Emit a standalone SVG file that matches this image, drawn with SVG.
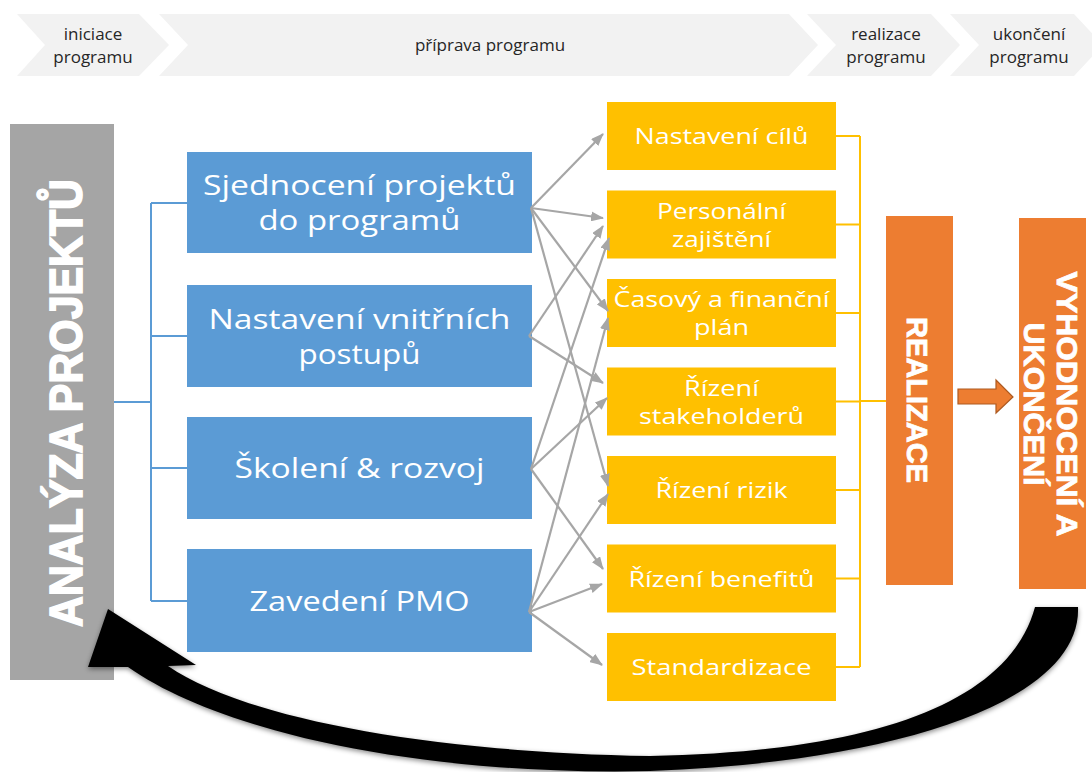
<svg xmlns="http://www.w3.org/2000/svg" width="1092" height="772" viewBox="0 0 1092 772">
  <defs>
    <style>
      .phase { fill: #f2f2f2; }
      .phase-t { font-family: "Open Sans", "Noto Sans", sans-serif; font-size: 17px; fill: #262626; text-anchor: middle; }
      .blue { fill: #5b9bd5; }
      .blue-t { font-family: "Open Sans", "Noto Sans", sans-serif; font-size: 27.5px; fill: #ffffff; text-anchor: middle; }
      .yel { fill: #ffc000; }
      .yel-t { font-family: "Open Sans", "Noto Sans", sans-serif; font-size: 22px; fill: #ffffff; text-anchor: middle; }
      .org { fill: #ed7d31; }
      .big-t { font-family: "Liberation Sans", Arial, sans-serif; font-weight: bold; fill: #ffffff; text-anchor: middle; stroke: #ffffff; stroke-width: 0.8; }
      .tree-b { fill: none; stroke: #5b9bd5; stroke-width: 2; }
      .tree-y { fill: none; stroke: #ffc000; stroke-width: 2; }
      .link { fill: none; stroke: #a6a6a6; stroke-width: 2.2; marker-end: url(#ah); }
    </style>
    <marker id="ah" viewBox="0 0 13 10" refX="12" refY="5" markerWidth="13" markerHeight="10" markerUnits="userSpaceOnUse" orient="auto">
      <path d="M0,0 L13,5 L0,10 Z" fill="#a6a6a6"/>
    </marker>
    <filter id="soft" x="-5%" y="-10%" width="110%" height="130%">
      <feGaussianBlur in="SourceAlpha" stdDeviation="2.5"/>
      <feOffset dx="0" dy="2" result="b"/>
      <feFlood flood-color="#000" flood-opacity="0.45"/>
      <feComposite in2="b" operator="in"/>
      <feMerge><feMergeNode/><feMergeNode in="SourceGraphic"/></feMerge>
    </filter>
  </defs>

  <rect width="1092" height="772" fill="#ffffff"/>

  <!-- phase chevrons -->
  <g id="phase-1">
    <polygon class="phase" points="17,14 139,14 169,45 139,76 17,76 45,45"/>
    <text class="phase-t" x="93" y="40">iniciace</text>
    <text class="phase-t" x="93" y="63">programu</text>
  </g>
  <g id="phase-2">
    <polygon class="phase" points="159,14 789,14 818,45 789,76 159,76 188,45"/>
    <text class="phase-t" x="490" y="51">příprava programu</text>
  </g>
  <g id="phase-3">
    <polygon class="phase" points="807,14 931,14 960,45 931,76 807,76 836,45"/>
    <text class="phase-t" x="886" y="40">realizace</text>
    <text class="phase-t" x="886" y="63">programu</text>
  </g>
  <g id="phase-4">
    <polygon class="phase" points="950,14 1074,14 1103,45 1074,76 950,76 979,45"/>
    <text class="phase-t" x="1029" y="40">ukončení</text>
    <text class="phase-t" x="1029" y="63">programu</text>
  </g>

  <!-- analysis column -->
  <g id="analyza">
    <rect x="10" y="124" width="104" height="556" fill="#a5a5a5"/>
    <text class="big-t" font-size="46" style="stroke-width:1.6" transform="translate(82,403) rotate(-90)" textLength="448" lengthAdjust="spacingAndGlyphs">ANALÝZA PROJEKTŮ</text>
  </g>

  <!-- feedback loop arrow, drawn over the analysis column -->
  <g id="loop-arrow">
    <path filter="url(#soft)" fill="#000000" d="M1078,607 C1082,700 900,762 650,771 C420,776 220,732 128,667 L88,667 L108,609 L196,665 L168,666 C240,716 420,752 650,756 C880,752 1010,700 1035,607 Z"/>
  </g>

  <!-- preparation blocks -->
  <g id="sjednoceni">
    <rect class="blue" x="187" y="152" width="345" height="101"/>
    <text class="blue-t" x="359.5" y="195" textLength="313" lengthAdjust="spacingAndGlyphs">Sjednocení projektů</text>
    <text class="blue-t" x="359.5" y="230" textLength="202" lengthAdjust="spacingAndGlyphs">do programů</text>
  </g>
  <g id="postupy">
    <rect class="blue" x="187" y="285" width="345" height="102"/>
    <text class="blue-t" x="359.5" y="328.5" textLength="302" lengthAdjust="spacingAndGlyphs">Nastavení vnitřních</text>
    <text class="blue-t" x="359.5" y="363.5" textLength="122" lengthAdjust="spacingAndGlyphs">postupů</text>
  </g>
  <g id="skoleni">
    <rect class="blue" x="187" y="417" width="345" height="102"/>
    <text class="blue-t" x="359.5" y="478" textLength="250" lengthAdjust="spacingAndGlyphs">Školení &amp; rozvoj</text>
  </g>
  <g id="pmo">
    <rect class="blue" x="187" y="549" width="345" height="103"/>
    <text class="blue-t" x="359.5" y="610.5" textLength="220" lengthAdjust="spacingAndGlyphs">Zavedení PMO</text>
  </g>

  <!-- program areas -->
  <g id="cile">
    <rect class="yel" x="607" y="102" width="229" height="68"/>
    <text class="yel-t" x="721.5" y="144" textLength="174" lengthAdjust="spacingAndGlyphs">Nastavení cílů</text>
  </g>
  <g id="personalni">
    <rect class="yel" x="607" y="190.5" width="229" height="68"/>
    <text class="yel-t" x="721.5" y="218.5" textLength="129" lengthAdjust="spacingAndGlyphs">Personální</text>
    <text class="yel-t" x="721.5" y="246.5" textLength="99" lengthAdjust="spacingAndGlyphs">zajištění</text>
  </g>
  <g id="plan">
    <rect class="yel" x="607" y="279" width="229" height="68"/>
    <text class="yel-t" x="721.5" y="307" textLength="216" lengthAdjust="spacingAndGlyphs">Časový a finanční</text>
    <text class="yel-t" x="721.5" y="335" textLength="55" lengthAdjust="spacingAndGlyphs">plán</text>
  </g>
  <g id="stakeholderi">
    <rect class="yel" x="607" y="367.5" width="229" height="68"/>
    <text class="yel-t" x="721.5" y="395.5" textLength="75" lengthAdjust="spacingAndGlyphs">Řízení</text>
    <text class="yel-t" x="721.5" y="423.5" textLength="165" lengthAdjust="spacingAndGlyphs">stakeholderů</text>
  </g>
  <g id="rizika">
    <rect class="yel" x="607" y="456" width="229" height="68"/>
    <text class="yel-t" x="721.5" y="498" textLength="132" lengthAdjust="spacingAndGlyphs">Řízení rizik</text>
  </g>
  <g id="benefity">
    <rect class="yel" x="607" y="544.5" width="229" height="68"/>
    <text class="yel-t" x="721.5" y="586.5" textLength="186" lengthAdjust="spacingAndGlyphs">Řízení benefitů</text>
  </g>
  <g id="standardizace">
    <rect class="yel" x="607" y="633" width="229" height="68"/>
    <text class="yel-t" x="721.5" y="675" textLength="180" lengthAdjust="spacingAndGlyphs">Standardizace</text>
  </g>

  <!-- realisation and closing -->
  <g id="realizace">
    <rect class="org" x="886" y="216" width="67" height="369"/>
    <text class="big-t" font-size="30" transform="translate(907,400) rotate(90)" textLength="166" lengthAdjust="spacingAndGlyphs">REALIZACE</text>
  </g>
  <g id="vyhodnoceni">
    <rect class="org" x="1019" y="218" width="67" height="371"/>
    <text class="big-t" font-size="30" transform="translate(1057,404) rotate(90)" textLength="265" lengthAdjust="spacingAndGlyphs">VYHODNOCENÍ A</text>
    <text class="big-t" font-size="30" transform="translate(1024,404) rotate(90)" textLength="163" lengthAdjust="spacingAndGlyphs">UKONČENÍ</text>
  </g>

  <!-- connectors -->
  <g id="connectors">
    <path class="tree-b" d="M114,402 H151 M151,203 V601 M151,203 H187 M151,336 H187 M151,468 H187 M151,601 H187"/>
    <path class="tree-y" d="M836,136 H860 M836,224.5 H860 M836,313 H860 M836,401.5 H860 M836,490 H860 M836,578.5 H860 M836,667 H860 M860,136 V667 M860,401 H886"/>
    <line class="link" x1="531" y1="208" x2="603" y2="134"/>
    <line class="link" x1="531" y1="208" x2="603" y2="218"/>
    <line class="link" x1="531" y1="208" x2="608" y2="311"/>
    <line class="link" x1="531" y1="208" x2="608" y2="486"/>
    <line class="link" x1="529" y1="336" x2="603" y2="226"/>
    <line class="link" x1="529" y1="336" x2="603" y2="383"/>
    <line class="link" x1="531" y1="469" x2="609" y2="238"/>
    <line class="link" x1="531" y1="469" x2="607" y2="398"/>
    <line class="link" x1="531" y1="469" x2="603" y2="569"/>
    <line class="link" x1="529" y1="612" x2="608" y2="318"/>
    <line class="link" x1="529" y1="612" x2="608" y2="494"/>
    <line class="link" x1="529" y1="612" x2="602" y2="584"/>
    <line class="link" x1="529" y1="612" x2="602" y2="665"/>
    <path d="M958,389 H996 V380 L1013,397 L996,413 V404 H958 Z" fill="#ed7d31" stroke="#ae5a21" stroke-width="1.2"/>
  </g>
</svg>
